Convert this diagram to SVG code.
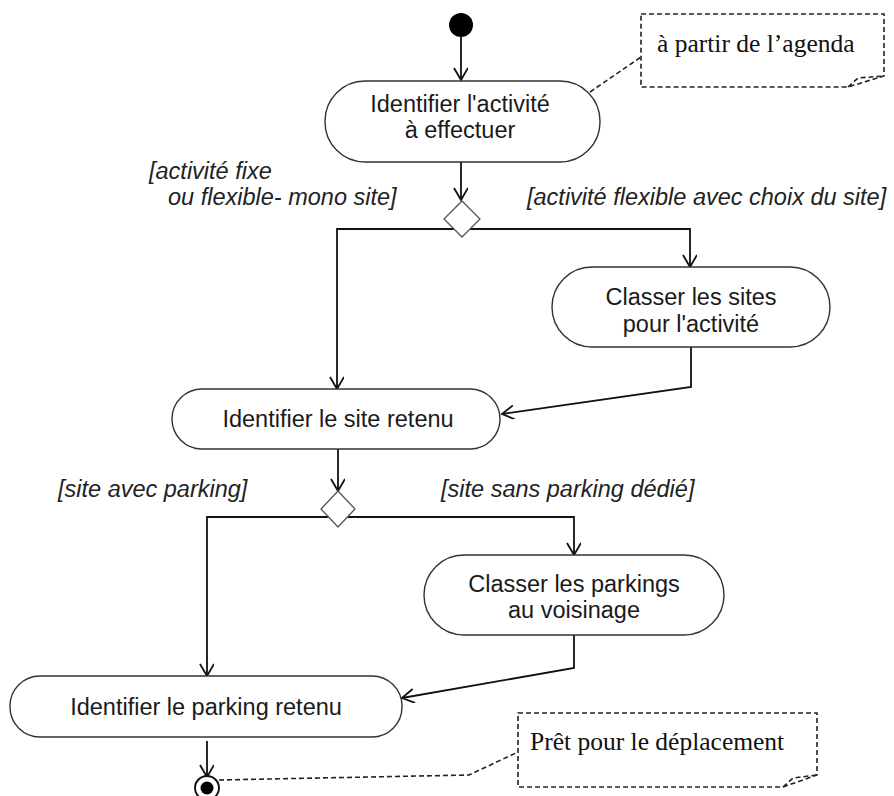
<svg xmlns="http://www.w3.org/2000/svg" width="894" height="796" viewBox="0 0 894 796">
<defs>
<marker id="arr" markerWidth="16" markerHeight="16" refX="13" refY="7" orient="auto" markerUnits="userSpaceOnUse">
<path d="M1,0 L13,7 L1,14" fill="none" stroke="#111" stroke-width="1.8"/>
</marker>
</defs>
<style>
.act{fill:#fff;stroke:#333;stroke-width:1.4}
.dec{fill:#fff;stroke:#555;stroke-width:1.3}
.t{font-family:"Liberation Sans",Arial,sans-serif;font-size:23.5px;fill:#1a1a1a;text-anchor:middle}
.g{font-family:"Liberation Sans",Arial,sans-serif;font-size:23.5px;font-style:italic;fill:#222}
.n{font-family:"Liberation Serif","Times New Roman",serif;font-size:25.5px;fill:#111}
.c{fill:none;stroke:#111;stroke-width:1.8}
.nb{fill:#fff;stroke:#222;stroke-width:1.6;stroke-dasharray:5,3}
.d{fill:none;stroke:#222;stroke-width:1.6;stroke-dasharray:5,3}
</style>
<rect width="894" height="796" fill="#fff"/>
<g id="connectors">
<path class="c" d="M461,37 V80" marker-end="url(#arr)"/>
<path class="c" d="M461,162 V200" marker-end="url(#arr)"/>
<path class="c" d="M462,229 H337 V389" marker-end="url(#arr)"/>
<path class="c" d="M462,229 H690 V267" marker-end="url(#arr)"/>
<path class="c" d="M691,347 V387 L502,414" marker-end="url(#arr)"/>
<path class="c" d="M338,449 V491" marker-end="url(#arr)"/>
<path class="c" d="M338,517 H207 V676" marker-end="url(#arr)"/>
<path class="c" d="M338,517 H574 V555" marker-end="url(#arr)"/>
<path class="c" d="M574,635 V668 L402,698" marker-end="url(#arr)"/>
<path class="c" d="M207,741 V777" marker-end="url(#arr)"/>
<path class="d" d="M590,92 L641,57"/>
<path class="d" d="M219,780 L469,775 L518,752"/>
</g>
<g id="start"><circle cx="461" cy="25" r="12" fill="#000"/></g>
<g id="n1">
<rect class="act" x="325" y="81" width="275" height="81" rx="40"/>
<text class="t" x="460" y="112">Identifier l'activité</text>
<text class="t" x="460" y="138">à effectuer</text>
</g>
<g id="d1"><path class="dec" d="M462,201 L480,219 L462,237 L444,219 Z"/></g>
<g id="g1">
<text class="g" x="149" y="179">[activité fixe</text>
<text class="g" x="168" y="205">ou flexible- mono site]</text>
</g>
<g id="g2"><text class="g" x="527" y="205">[activité flexible avec choix du site]</text></g>
<g id="n2">
<rect class="act" x="552" y="267" width="278" height="80" rx="40"/>
<text class="t" x="691" y="305">Classer les sites</text>
<text class="t" x="691" y="332">pour l'activité</text>
</g>
<g id="n3">
<rect class="act" x="172" y="389" width="328" height="60" rx="30"/>
<text class="t" x="338" y="427">Identifier le site retenu</text>
</g>
<g id="d2"><path class="dec" d="M338,491 L355,509 L338,527 L321,509 Z"/></g>
<g id="g3"><text class="g" x="58" y="497">[site avec parking]</text></g>
<g id="g4"><text class="g" x="441" y="497">[site sans parking dédié]</text></g>
<g id="n4">
<rect class="act" x="424" y="555" width="300" height="80" rx="40"/>
<text class="t" x="574" y="592">Classer les parkings</text>
<text class="t" x="574" y="618">au voisinage</text>
</g>
<g id="n5">
<rect class="act" x="10" y="676" width="392" height="61" rx="30"/>
<text class="t" x="206" y="715">Identifier le parking retenu</text>
</g>
<g id="end">
<circle cx="207" cy="788" r="12" fill="#fff" stroke="#111" stroke-width="2"/>
<circle cx="207" cy="788" r="6.5" fill="#000"/>
</g>
<g id="note1">
<path class="nb" d="M641,14 H884 V76 L848,87 H641 Z"/>
<path class="d" d="M848,87 L858,78 L884,76"/>
<text class="n" x="657" y="52">à partir de l’agenda</text>
</g>
<g id="note2">
<path class="nb" d="M518,713 H817 V775 L783,787 H518 Z"/>
<path class="d" d="M783,787 L793,778 L817,775"/>
<text class="n" x="530" y="750">Prêt pour le déplacement</text>
</g>
</svg>
